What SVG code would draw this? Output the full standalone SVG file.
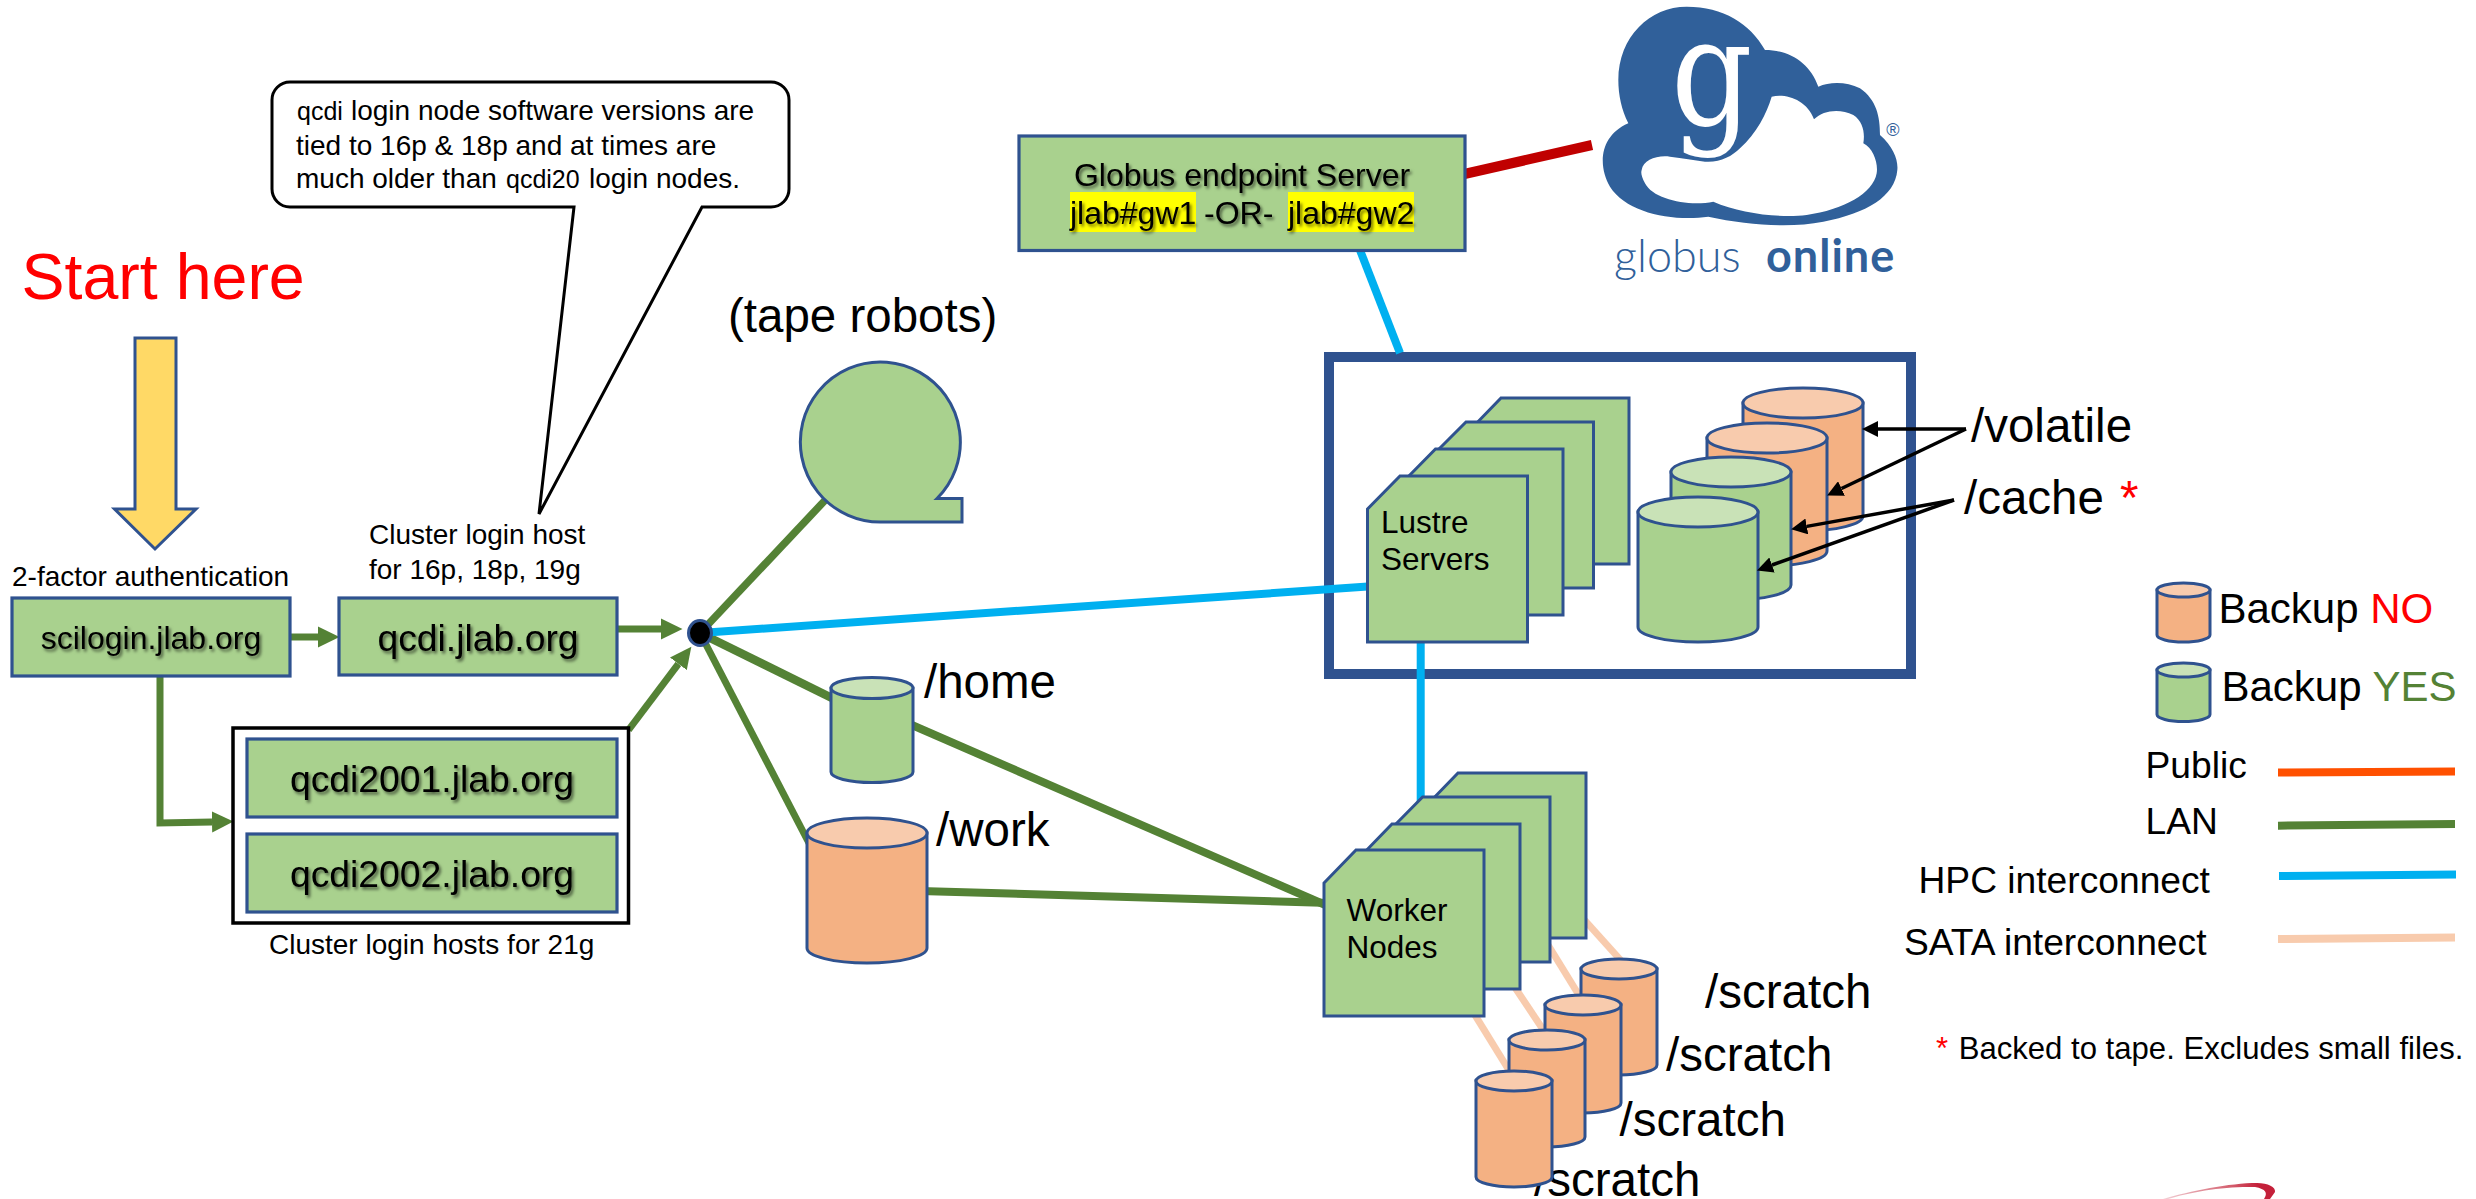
<svg xmlns="http://www.w3.org/2000/svg" width="2476" height="1199" viewBox="0 0 2476 1199">
<style>
text{font-family:"Liberation Sans",Arial,sans-serif;fill:#000}
.box{fill:#A9D18E;stroke:#2F528F;stroke-width:3.2}
.page{fill:#A9D18E;stroke:#2F528F;stroke-width:3}
.cg{fill:#A9D18E;stroke:#2F528F;stroke-width:3}
.co{fill:#F4B183;stroke:#2F528F;stroke-width:3}
.tg{fill:#C9E2B7;stroke:#2F528F;stroke-width:3}
.to{fill:#F8CBAD;stroke:#2F528F;stroke-width:3}
.lan{stroke:#548235;fill:none}
.hpc{stroke:#00B0F0;fill:none;stroke-width:8}
.sata{stroke:#F8CBAD;fill:none;stroke-width:7}
.note{stroke:#000;stroke-width:3.5;fill:none;marker-end:url(#blk)}
.s28{font-size:28px}.s25{font-size:25px}
.s47{font-size:47.5px}.s37{font-size:37.2px}.s42{font-size:42px}
.host{font-size:37.3px;filter:url(#sh)}
.lbl{font-size:31.5px}
.mid{text-anchor:middle}
.red{fill:#F00}
</style>
<defs>
<filter id="sh" x="-5%" y="-20%" width="110%" height="150%"><feDropShadow dx="2" dy="2.5" stdDeviation="1.6" flood-color="#000" flood-opacity=".55"/></filter>
<marker id="grn" markerUnits="userSpaceOnUse" markerWidth="22" markerHeight="22" refX="0" refY="11" viewBox="0 0 22 22" orient="auto"><path d="M0,.5 L21.5,11 L0,21.5Z" fill="#548235"/></marker>
<marker id="blk" markerUnits="userSpaceOnUse" markerWidth="16" markerHeight="16" refX="0" refY="8" viewBox="0 0 16 16" orient="auto"><path d="M0,0 L16,8 L0,16Z" fill="#000"/></marker>
<linearGradient id="sw" x1="0" x2="1" y1="0" y2="0"><stop offset="0" stop-color="#F3D3D8"/><stop offset=".6" stop-color="#D4606F"/><stop offset=".85" stop-color="#C4203A"/></linearGradient>
</defs>
<rect width="2476" height="1199" fill="#fff"/>

<g id="lustre-frame"><rect x="1329" y="357" width="582" height="317" fill="#fff" stroke="#2F528F" stroke-width="10"/></g>

<g id="connectors">
<line class="lan" stroke-width="7" x1="290" y1="637" x2="318" y2="637" marker-end="url(#grn)"/>
<line class="lan" stroke-width="7" x1="617" y1="629" x2="661" y2="629" marker-end="url(#grn)"/>
<line class="lan" stroke-width="7" x1="628.5" y1="730" x2="678.4" y2="663.8" marker-end="url(#grn)"/>
<path class="lan" stroke-width="7" d="M160,676 V823 L212,822" marker-end="url(#grn)"/>
<line class="lan" stroke-width="7.500" x1="700" y1="633" x2="830" y2="495"/>
<line class="lan" stroke-width="8.500" x1="700" y1="633" x2="840" y2="702"/>
<line class="lan" stroke-width="7" x1="700" y1="633" x2="810" y2="845"/>
<line class="lan" stroke-width="8" x1="905" y1="722" x2="1330" y2="907"/>
<line class="lan" stroke-width="8" x1="920" y1="891" x2="1330" y2="903"/>
<line class="hpc" x1="700" y1="633" x2="1375" y2="586"/>
<line class="hpc" x1="1358" y1="245" x2="1400" y2="353"/>
<line class="hpc" stroke-width="7" x1="1420.7" y1="635" x2="1420.7" y2="805"/>
<line stroke="#C00000" stroke-width="10" x1="1460" y1="175" x2="1592" y2="145"/>
<line class="sata" x1="1580" y1="915" x2="1625" y2="965"/>
<line class="sata" x1="1545" y1="940" x2="1585" y2="1005"/>
<line class="sata" x1="1510" y1="980" x2="1550" y2="1040"/>
<line class="sata" x1="1470" y1="1007" x2="1515" y2="1080"/>
</g>

<g id="start-here">
<text x="21.500" y="299" font-size="64.500" class="red">Start here</text>
<path d="M135,338 H176 V509 H196 L155,549 L114.5,509 H135Z" fill="#FFD966" stroke="#2F528F" stroke-width="3"/>
</g>

<g id="callout">
<path d="M290,82 H771 A18,18 0 0 1 789,100 V189 A18,18 0 0 1 771,207 H702 L539,514 L574,207 H290 A18,18 0 0 1 272,189 V100 A18,18 0 0 1 290,82Z" fill="#fff" stroke="#000" stroke-width="3"/>
<text y="120" class="s28"><tspan x="297" font-size="25">qcdi</tspan><tspan x="351">login node software versions are</tspan></text>
<text x="296" y="155" class="s28">tied to 16p &amp; 18p and at times are</text>
<text y="187.5" class="s28"><tspan x="296">much older than</tspan><tspan x="506" font-size="25">qcdi20</tspan><tspan x="589">login nodes.</tspan></text>
</g>

<g id="scilogin">
<text x="12" y="586" class="s28">2-factor authentication</text>
<rect class="box" x="12" y="598" width="278" height="78"/>
<text x="151" y="649" font-size="32" class="mid" filter="url(#sh)">scilogin.jlab.org</text>
</g>

<g id="qcdi">
<text x="369" y="543.5" class="s28">Cluster login host</text>
<text x="369" y="578.6" class="s28">for 16p, 18p, 19g</text>
<rect class="box" x="339" y="598" width="278" height="77"/>
<text x="478" y="651" class="host mid">qcdi.jlab.org</text>
</g>

<g id="qcdi20">
<rect x="233" y="728" width="395.5" height="195" fill="#fff" stroke="#000" stroke-width="3.5"/>
<rect class="box" x="247" y="739" width="370" height="78"/>
<text x="432" y="792" class="host mid">qcdi2001.jlab.org</text>
<rect class="box" x="247" y="834" width="370" height="78"/>
<text x="432" y="887" class="host mid">qcdi2002.jlab.org</text>
<text x="269" y="954" class="s28">Cluster login hosts for 21g</text>
</g>

<g id="hub"><ellipse cx="700" cy="633" rx="11.5" ry="12.5" fill="#000" stroke="#2F528F" stroke-width="3"/></g>

<g id="tape">
<text x="728" y="332" class="s47">(tape robots)</text>
<path d="M882,522 A80,80 0 1 1 937,498.5 H962 V522Z" fill="#A9D18E" stroke="#2F528F" stroke-width="3"/>
</g>

<g id="home">
<path class="cg" d="M831,688 V772 A41,10.5 0 0 0 913,772 V688Z"/>
<ellipse class="tg" cx="872" cy="688" rx="41" ry="10.5"/>
<text x="924" y="698" class="s47">/home</text>
</g>

<g id="work">
<path class="co" d="M807,833 V948 A60,15 0 0 0 927,948 V833Z"/>
<ellipse class="to" cx="867" cy="833" rx="60" ry="15"/>
<text x="936" y="846" class="s47">/work</text>
</g>

<g id="globus-server">
<rect class="box" x="1019" y="136" width="446" height="114.500"/>
<rect x="1070" y="192" width="126" height="40" fill="#FF0"/>
<rect x="1288" y="192" width="126" height="40" fill="#FF0"/>
<text x="1242" y="186" font-size="32" class="mid" filter="url(#sh)">Globus endpoint Server</text>
<text y="224" font-size="32" filter="url(#sh)"><tspan x="1070">jlab#gw1</tspan><tspan x="1204">-OR-</tspan><tspan x="1288">jlab#gw2</tspan></text>
</g>

<g id="globus-logo">
<path transform="translate(1590,0) scale(.33333)" fill="#30609A" fill-rule="evenodd" d="M115,370 C95,330 85,285 85,240 C85,110 180,20 290,20 C400,20 480,70 525,150 C600,150 660,190 685,260 C720,245 770,245 810,265 C860,300 870,350 870,405 C910,440 925,480 922,510 C915,590 830,640 700,665 C600,685 470,675 355,650 C250,665 110,640 60,560 C25,500 25,410 115,370Z M155,510 C160,480 200,465 240,470 C280,475 310,480 345,485 C390,488 425,470 450,445 C500,400 530,340 545,290 C590,280 650,300 672,358 C700,330 750,325 790,345 C820,365 825,400 820,430 C850,445 865,490 860,520 C850,580 760,630 650,645 C570,655 450,640 370,605 C300,620 190,600 165,550 C155,530 152,520 155,510Z"/>
<text transform="translate(1671,125) scale(.85,1)" font-size="150" style="font-family:'DejaVu Serif',serif;fill:#fff">g</text>
<text x="1893" y="135.500" font-size="18" class="mid" style="fill:#30609A">®</text>
<text y="272" font-size="45" style="font-family:Lato,sans-serif;fill:#30609A"><tspan x="1614" font-weight="300">globus</tspan><tspan x="1766" font-weight="700" letter-spacing="1">online</tspan></text>
</g>

<g id="lustre-servers">
<path class="page" d="M1469,431 L1501,398 H1629 V564 H1469Z"/>
<path class="page" d="M1433,455 L1466,422 H1593.500 V588 H1433Z"/>
<path class="page" d="M1403,482 L1435.500,449 H1563 V615 H1403Z"/>
<path class="page" d="M1367.500,509 L1400,476 H1527.500 V642 H1367.500Z"/>
<text x="1381" y="533" class="lbl">Lustre</text>
<text x="1381" y="570" class="lbl">Servers</text>
</g>

<g id="volatile-1"><path class="co" d="M1743,403 V516 A60,15 0 0 0 1863,516 V403Z"/><ellipse class="to" cx="1803" cy="403" rx="60" ry="15"/></g>
<g id="volatile-2"><path class="co" d="M1707,438 V551 A60,15 0 0 0 1827,551 V438Z"/><ellipse class="to" cx="1767" cy="438" rx="60" ry="15"/></g>
<g id="cache-1"><path class="cg" d="M1671,472 V585 A60,15 0 0 0 1791,585 V472Z"/><ellipse class="tg" cx="1731" cy="472" rx="60" ry="15"/></g>
<g id="cache-2"><path class="cg" d="M1638,512 V627 A60,15 0 0 0 1758,627 V512Z"/><ellipse class="tg" cx="1698" cy="512" rx="60" ry="15"/></g>

<g id="storage-labels">
<text x="1971" y="441.700" class="s47">/volatile</text>
<text y="514" class="s47"><tspan x="1964">/cache</tspan><tspan x="2120" class="red">*</tspan></text>
<line class="note" x1="1966" y1="429" x2="1878" y2="429"/>
<line class="note" x1="1966" y1="429" x2="1841.500" y2="488.500"/>
<line class="note" x1="1954" y1="500" x2="1806.800" y2="526.400"/>
<line class="note" x1="1954" y1="500" x2="1772" y2="565"/>
</g>

<g id="worker-nodes">
<path class="page" d="M1426,806 L1458,773 H1586 V938 H1426Z"/>
<path class="page" d="M1390,830 L1422.600,797 H1550 V962 H1390Z"/>
<path class="page" d="M1360,857 L1392,824 H1520 V989 H1360Z"/>
<path class="page" d="M1324,883 L1356,850 H1484 V1016 H1324Z"/>
<text x="1346.500" y="921" class="lbl">Worker</text>
<text x="1346.500" y="958" class="lbl">Nodes</text>
</g>

<g id="scratch-1"><path class="co" d="M1581,969 V1065 A38,10 0 0 0 1657,1065 V969Z"/><ellipse class="to" cx="1619" cy="969" rx="38" ry="10"/><text x="1705" y="1008" class="s47">/scratch</text></g>
<g id="scratch-2"><path class="co" d="M1545,1005 V1103 A38,10 0 0 0 1621,1103 V1005Z"/><ellipse class="to" cx="1583" cy="1005" rx="38" ry="10"/><text x="1666" y="1071" class="s47">/scratch</text></g>
<g id="scratch-3"><path class="co" d="M1509,1040 V1137 A38,10 0 0 0 1585,1137 V1040Z"/><ellipse class="to" cx="1547" cy="1040" rx="38" ry="10"/><text x="1619.500" y="1136" class="s47">/scratch</text></g>
<g id="scratch-4"><text x="1534" y="1196" class="s47">/scratch</text><path class="co" d="M1476,1081 V1177 A38,10 0 0 0 1552,1177 V1081Z"/><ellipse class="to" cx="1514" cy="1081" rx="38" ry="10"/></g>

<g id="legend">
<path class="co" d="M2157,590 V635 A26.500,7 0 0 0 2210,635 V590Z"/><ellipse class="to" cx="2183.500" cy="590" rx="26.500" ry="7"/>
<text y="623" class="s42"><tspan x="2218.500">Backup </tspan><tspan class="red">NO</tspan></text>
<path class="cg" d="M2157,670 V714.500 A26.500,7 0 0 0 2210,714.500 V670Z"/><ellipse class="tg" cx="2183.500" cy="670" rx="26.500" ry="7"/>
<text y="700.600" class="s42"><tspan x="2221.500">Backup </tspan><tspan style="fill:#548235">YES</tspan></text>
<text x="2145.500" y="778" class="s37">Public</text>
<text x="2145.500" y="834" class="s37">LAN</text>
<text x="1918.500" y="893" class="s37">HPC interconnect</text>
<text x="1904" y="954.500" class="s37">SATA interconnect</text>
<line stroke="#FF5000" stroke-width="8" x1="2278" y1="772.500" x2="2455" y2="771.500"/>
<line stroke="#548235" stroke-width="8" x1="2278" y1="825.700" x2="2455" y2="824"/>
<line stroke="#00B0F0" stroke-width="8" x1="2279" y1="876" x2="2456" y2="874.600"/>
<line stroke="#F8CBAD" stroke-width="8" x1="2278" y1="939" x2="2455" y2="937.500"/>
<text y="1059" font-size="31.100"><tspan x="1936" class="red">*</tspan><tspan x="1958.700">Backed to tape. Excludes small files.</tspan></text>
</g>

<g id="jlab-swoosh"><path d="M2163,1199 C2190,1191 2230,1183 2257,1183 C2268,1183 2276,1187 2275,1192 L2270,1199 L2264,1199 C2268,1193 2266,1189 2255,1187 C2225,1186 2190,1192 2168,1199Z" fill="url(#sw)"/></g>
</svg>
